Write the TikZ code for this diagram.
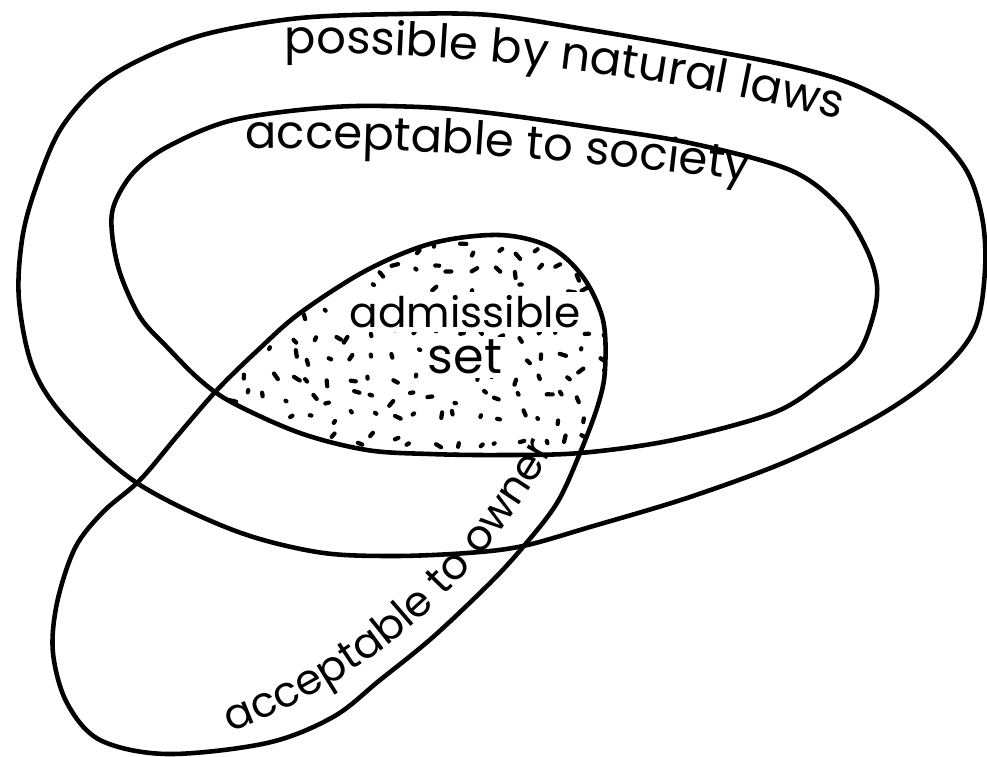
\documentclass[tikz,border=0pt]{standalone}
\usepackage{fontspec}
\setmainfont{Poppins}
\usepackage{tikz}
\usetikzlibrary{decorations.text,positioning}

\newcommand{\naturalline}{plot[smooth cycle, tension=0.55] coordinates {(400,14) (490,15) (590,30) (690,47) (790,66) (857,86) (923,123) (965,168) (982,217) (985,270) (975,328) (940,372) (880,415) (790,460) (690,497) (590,527) (523,546) (467,553) (390,556) (317,552) (233,530) (137,483) (67,420) (33,368) (19,300) (22,240) (35,190) (60,130) (100,84) (150,55) (210,33) (300,18)}}
\newcommand{\societyline}{plot[smooth cycle, tension=0.55] coordinates {(420,107) (490,113) (590,127) (690,143) (790,170) (840,207) (867,250) (877,285) (873,317) (857,355) (823,382) (773,413) (673,440) (580,453) (500,455) (430,454) (367,450) (300,433) (233,403) (200,380) (167,347) (140,317) (120,273) (112,233) (114,205) (133,173) (167,147) (233,120) (333,107)}}
\newcommand{\ownerline}{plot[smooth cycle, tension=0.55] coordinates {(433,243) (500,235) (550,247) (583,277) (603,320) (605,370) (598,405) (580,453) (557,503) (523,547) (490,583) (433,637) (380,680) (333,717) (267,743) (167,754) (100,740) (67,703) (53,653) (57,603) (75,548) (103,512) (140,480) (178,435) (217,390) (258,350) (300,313) (367,270)}}

\begin{document}
\begin{tikzpicture}[x=0.01cm, y=-0.01cm,
    boundary/.style={line width=1.3pt, line join=round},
    speck/.style={line width=1.2pt, line cap=round},
    lbl/.style={font=\fontsize{12}{14}\selectfont, fill=white, inner sep=1pt},
    curvetext/.style={decorate, decoration={text along path, text align=center, text={#1}}}]
    \useasboundingbox (0,0) rectangle (987,756);
    % stipple of the admissible set
    \begin{scope}
        \clip \ownerline;
        \clip \societyline;
        \pgfmathsetseed{7}
        \foreach \gx in {205,226,...,610} {
            \foreach \gy in {228,249,...,460} {
                \pgfmathsetmacro{\px}{\gx+14*rnd-7}
                \pgfmathsetmacro{\py}{\gy+14*rnd-7}
                \pgfmathsetmacro{\pa}{180*rnd}
                \pgfmathsetmacro{\pl}{1+6*rnd}
                \draw[speck] (\px,\py) -- ++(\pa:\pl);
            }
        }
    \end{scope}
    \draw[boundary] \naturalline;
    \draw[boundary] \societyline;
    \draw[boundary] \ownerline;
    % labels running along the curves
    \path[curvetext={|\fontsize{13.2}{15}\selectfont|possible by natural laws}]
        (262,54) .. controls (480,49) and (700,82) .. (862,125);
    \path[curvetext={|\fontsize{13.2}{15}\selectfont|acceptable to society}]
        (222,149) .. controls (420,145) and (600,162) .. (772,184);
    \path[curvetext={|\fontsize{12}{14}\selectfont|acceptable to owner}]
        (210,740) .. controls (318,702) and (462,626) .. (564,430);
    \node[lbl] (adm) at (465,312) {admissible};
    \node[lbl, font=\fontsize{14}{16}\selectfont, below=1pt of adm] (setlbl) {set};
\end{tikzpicture}
\end{document}
